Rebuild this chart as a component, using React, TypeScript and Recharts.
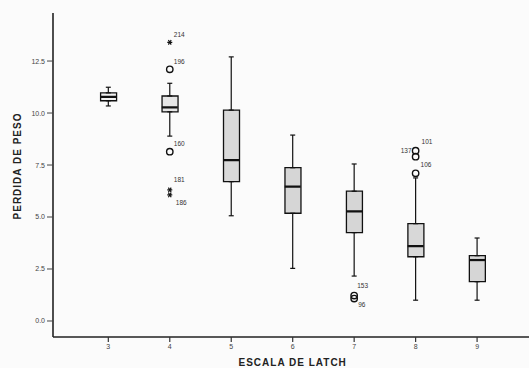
import React from 'react';
import { ComposedChart, XAxis, YAxis, Bar, Scatter, ErrorBar, Cell } from 'recharts';

// ---- data ----
const categories = [3, 4, 5, 6, 7, 8, 9];
const mins = [10.34, 8.89, 5.06, 2.53, 2.16, 1.0, 1.0];
const q1s = [10.59, 10.06, 6.7, 5.18, 4.25, 3.09, 1.89];
const medians = [10.78, 10.27, 7.74, 6.46, 5.27, 3.6, 2.93];
const q3s = [10.97, 10.82, 10.14, 7.37, 6.24, 4.68, 3.14];
const maxs = [11.24, 11.43, 12.7, 8.94, 7.55, 6.88, 3.99];

const outlierCats = [4, 4, 4, 4, 4, 7, 7, 8, 8, 8];
const outlierValues = [13.4, 12.1, 8.14, 6.3, 6.06, 1.22, 1.08, 8.19, 7.9, 7.1];
const outlierIds = ['214', '196', '160', '181', '186', '153', '96', '101', '137', '106'];
const outlierKinds = ['star', 'circle', 'circle', 'star', 'star', 'circle', 'circle', 'circle', 'circle', 'circle'];

const yTicks = [0, 2.5, 5, 7.5, 10, 12.5];
const xTicks = [3, 4, 5, 6, 7, 8, 9];

// ---- styles ----
const boxFills = ['#f1f1f1', '#e6e6e6', '#d9d9d9', '#d6d6d6', '#d6d6d6', '#d8d8d8', '#d6d6d6'];
const labelPlacement: Record<string, [number, number, string]> = {
  '214': [4, -7, 'start'],
  '196': [4, -7, 'start'],
  '160': [4, -7, 'start'],
  '181': [4, -10, 'start'],
  '186': [6, 8, 'start'],
  '153': [3, -9, 'start'],
  '96': [4, 7, 'start'],
  '101': [6, -8, 'start'],
  '137': [-4, -5, 'end'],
  '106': [5, -8, 'start'],
};
const FONT = '"Liberation Sans", Arial, sans-serif';

const boxData = categories.map((c, i) => ({
  x: c,
  min: mins[i],
  q1: q1s[i],
  median: medians[i],
  q3: q3s[i],
  max: maxs[i],
  box: [q1s[i], q3s[i]],
  upper: [0, maxs[i] - q3s[i]],
  lower: [q1s[i] - mins[i], 0],
}));

const outlierData = outlierValues.map((v, i) => ({
  x: outlierCats[i],
  y: v,
  id: outlierIds[i],
  kind: outlierKinds[i],
}));

const Empty = () => <g />;

const MedianShape = (p: any) => (
  <line x1={p.cx - 8} x2={p.cx + 8} y1={p.cy} y2={p.cy} stroke="#111" strokeWidth={2.2} />
);

const OutlierShape = (p: any) => {
  const { cx, cy, payload } = p;
  const pl = labelPlacement[payload.id] || [4, -7, 'start'];
  const marker =
    payload.kind === 'star' ? (
      <g stroke="#111" strokeWidth={1.2}>
        <line x1={cx - 2.5} x2={cx + 2.5} y1={cy} y2={cy} />
        <line x1={cx - 1.4} x2={cx + 1.4} y1={cy - 2.3} y2={cy + 2.3} />
        <line x1={cx - 1.4} x2={cx + 1.4} y1={cy + 2.3} y2={cy - 2.3} />
      </g>
    ) : (
      <circle cx={cx} cy={cy} r={3.2} fill="none" stroke="#111" strokeWidth={1.4} />
    );
  return (
    <g>
      {marker}
      <text
        x={cx + pl[0]}
        y={cy + pl[1]}
        textAnchor={pl[2] as any}
        fontSize={6.5}
        fontFamily={FONT}
        fill="#333"
        stroke="none"
        dominantBaseline="middle"
      >
        {payload.id}
      </text>
    </g>
  );
};

export default function App() {
  return (
    <div
      style={{
        position: 'fixed',
        left: 0,
        top: 0,
        width: 529,
        height: 368,
        overflow: 'hidden',
        background: '#fbfbfb',
      }}
    >
      <ComposedChart
        width={540}
        height={368}
        data={boxData}
        margin={{ top: 13, right: 7.6, bottom: 11, left: 0 }}
      >
        <XAxis
          dataKey="x"
          type="number"
          domain={[2.1, 9.9]}
          ticks={xTicks}
          allowDataOverflow
          height={20}
          tickSize={5}
          tickMargin={2}
          axisLine={{ stroke: '#222', strokeWidth: 1.6 }}
          tickLine={{ stroke: '#333', strokeWidth: 1.2 }}
          tick={{ fontSize: 7, fill: '#444', fontFamily: FONT }}
          label={{
            value: 'ESCALA DE LATCH',
            position: 'bottom',
            offset: 2,
            style: { fontSize: 10, fontWeight: 700, letterSpacing: 1, fill: '#222', fontFamily: FONT },
          }}
        />
        <XAxis
          xAxisId="top"
          orientation="top"
          type="number"
          domain={[2.1, 9.9]}
          height={0}
          tick={false}
          tickLine={false}
          axisLine={{ stroke: '#333', strokeWidth: 1.6 }}
        />
        <YAxis
          type="number"
          domain={[-0.77, 14.81]}
          ticks={yTicks}
          allowDataOverflow
          width={53}
          tickSize={6}
          tickMargin={2}
          tickFormatter={(v: number) => v.toFixed(1)}
          axisLine={{ stroke: '#222', strokeWidth: 1.6 }}
          tickLine={{ stroke: '#444', strokeWidth: 1 }}
          tick={{ fontSize: 7, fill: '#444', fontFamily: FONT }}
          label={{
            content: (props: any) => {
              const vb = props.viewBox;
              const cx = vb.x + 18;
              const cy = vb.y + vb.height / 2 - 9;
              return (
                <text
                  x={cx}
                  y={cy}
                  transform={`rotate(-90 ${cx} ${cy})`}
                  textAnchor="middle"
                  dominantBaseline="middle"
                  fontSize={10}
                  fontWeight={700}
                  letterSpacing={1}
                  fill="#222"
                  fontFamily={FONT}
                >
                  PERDIDA DE PESO
                </text>
              );
            },
          }}
        />
        <Scatter dataKey="q3" shape={Empty} isAnimationActive={false}>
          <ErrorBar dataKey="upper" direction="y" width={2.5} stroke="#111" strokeWidth={1.2} isAnimationActive={false} />
        </Scatter>
        <Scatter dataKey="q1" shape={Empty} isAnimationActive={false}>
          <ErrorBar dataKey="lower" direction="y" width={2.5} stroke="#111" strokeWidth={1.2} isAnimationActive={false} />
        </Scatter>
        <Bar dataKey="box" barSize={16} stroke="#111" strokeWidth={1.3} isAnimationActive={false}>
          {boxData.map((d, i) => (
            <Cell key={d.x} fill={boxFills[i]} />
          ))}
        </Bar>
        <Scatter dataKey="median" shape={MedianShape} isAnimationActive={false} />
        <Scatter data={outlierData} dataKey="y" shape={OutlierShape} isAnimationActive={false} />
      </ComposedChart>
    </div>
  );
}
